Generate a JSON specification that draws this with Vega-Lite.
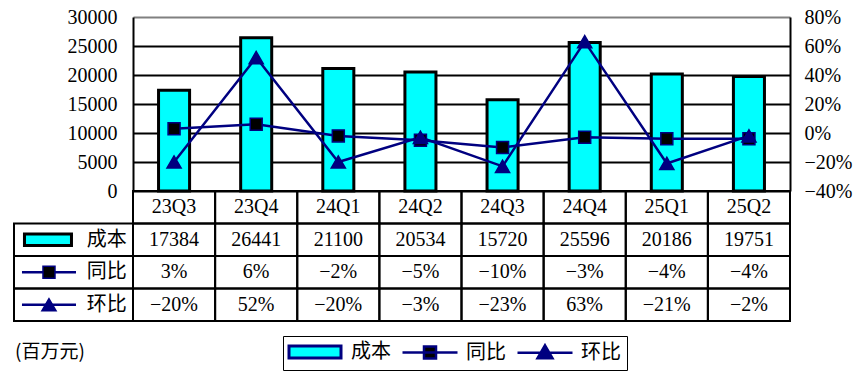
{
  "$schema": "https://vega.github.io/schema/vega-lite/v6.json",
  "width": 657,
  "height": 304,
  "autosize": {"type": "none"},
  "padding": {"left": 133, "top": 17, "right": 68, "bottom": 59},
  "background": "white",
  "config": {
    "view": {"stroke": null},
    "font": "Liberation Serif",
    "axis": {"labelFont": "Liberation Serif", "labelFontSize": 20, "labelColor": "black", "title": null}
  },
  "datasets": {
    "quarters": [
      {"q": "23Q3", "cost": 17384, "yoy": 0.03, "qoq": -0.20},
      {"q": "23Q4", "cost": 26441, "yoy": 0.06, "qoq": 0.52},
      {"q": "24Q1", "cost": 21100, "yoy": -0.02, "qoq": -0.20},
      {"q": "24Q2", "cost": 20534, "yoy": -0.05, "qoq": -0.03},
      {"q": "24Q3", "cost": 15720, "yoy": -0.10, "qoq": -0.23},
      {"q": "24Q4", "cost": 25596, "yoy": -0.03, "qoq": 0.63},
      {"q": "25Q1", "cost": 20186, "yoy": -0.04, "qoq": -0.21},
      {"q": "25Q2", "cost": 19751, "yoy": -0.04, "qoq": -0.02}
    ],
    "rows": [
      {"row": "cost", "name": "成本"},
      {"row": "yoy", "name": "同比"},
      {"row": "qoq", "name": "环比"}
    ]
  },
  "layer": [
    {
      "data": {"name": "quarters"},
      "encoding": {
        "x": {"field": "q", "type": "nominal", "sort": null,
              "scale": {"domain": ["23Q3","23Q4","24Q1","24Q2","24Q3","24Q4","25Q1","25Q2"], "paddingInner": 0, "paddingOuter": 0},
              "axis": null}
      },
      "layer": [
        {
          "mark": {"type": "bar", "width": {"band": 0.378}, "stroke": "black", "strokeWidth": 3},
          "encoding": {
            "y": {"field": "cost", "type": "quantitative",
                  "scale": {"domain": [0, 30000], "range": [174, 0], "nice": false},
                  "axis": {"orient": "left", "values": [0,5000,10000,15000,20000,25000,30000], "format": "d",
                           "ticks": false, "labelPadding": 16, "domainColor": "black", "domainWidth": 2,
                           "grid": true, "gridWidth": 2,
                           "gridColor": {"condition": {"test": "datum.value === 30000", "value": "#808080"}, "value": "black"}}},
            "fill": {"datum": "成本", "type": "nominal",
                     "scale": {"domain": ["成本","同比","环比"], "range": ["#00FFFF","#000000","#000080"]},
                     "legend": {
                       "orient": "none", "legendX": 150, "legendY": 319, "direction": "horizontal", "title": null,
                       "symbolSize": 400, "symbolOffset": 16, "labelOffset": 26, "columnPadding": 6, "padding": 6,
                       "strokeColor": "black", "labelFont": "Noto Sans CJK SC", "labelFontSize": 20, "labelColor": "black",
                       "symbolType": {"expr": "datum.value === '成本' ? 'M-2.6,-0.6H2.6V0.6H-2.6Z' : datum.value === '同比' ? 'M-2.75,0H2.75M-0.6,-0.6H0.6V0.6H-0.6Z' : 'M-2.75,0H2.75M0,-0.75L0.75,0.55H-0.75Z'"},
                       "symbolStrokeColor": {"expr": "datum.value === '成本' ? 'black' : '#000080'"},
                       "symbolStrokeWidth": {"expr": "datum.value === '成本' ? 3 : 2.5"},
                       "symbolOpacity": 1
                     }}
          }
        },
        {
          "layer": [
            {
              "mark": {"type": "line", "color": "#000080", "strokeWidth": 2.5},
              "encoding": {"y": {"field": "yoy", "type": "quantitative",
                "scale": {"domain": [-0.4, 0.8], "range": [174, 0], "nice": false, "zero": false},
                "axis": {"orient": "right", "values": [-0.4,-0.2,0,0.2,0.4,0.6,0.8], "format": ".0%", "ticks": false, "labelPadding": 14, "domainColor": "black", "domainWidth": 2, "grid": false}}}
            },
            {
              "mark": {"type": "line", "color": "#000080", "strokeWidth": 2.5},
              "encoding": {"y": {"field": "qoq", "type": "quantitative",
                "scale": {"domain": [-0.4, 0.8], "range": [174, 0], "nice": false, "zero": false},
                "axis": {"orient": "right", "values": [-0.4,-0.2,0,0.2,0.4,0.6,0.8], "format": ".0%", "ticks": false, "labelPadding": 14, "domainColor": "black", "domainWidth": 2, "grid": false}}}
            },
            {
              "mark": {"type": "point", "shape": "square", "filled": true, "size": 144, "stroke": "#000080", "strokeWidth": 1.5, "opacity": 1},
              "encoding": {
                "y": {"field": "yoy", "type": "quantitative",
                  "scale": {"domain": [-0.4, 0.8], "range": [174, 0], "nice": false, "zero": false},
                  "axis": {"orient": "right", "values": [-0.4,-0.2,0,0.2,0.4,0.6,0.8], "format": ".0%", "ticks": false, "labelPadding": 14, "domainColor": "black", "domainWidth": 2, "grid": false}},
                "fill": {"datum": "同比", "type": "nominal"}
              }
            },
            {
              "mark": {"type": "point", "shape": "triangle-up", "filled": true, "size": 200, "stroke": "#000080", "strokeWidth": 1.5, "opacity": 1},
              "encoding": {
                "y": {"field": "qoq", "type": "quantitative",
                  "scale": {"domain": [-0.4, 0.8], "range": [174, 0], "nice": false, "zero": false},
                  "axis": {"orient": "right", "values": [-0.4,-0.2,0,0.2,0.4,0.6,0.8], "format": ".0%", "ticks": false, "labelPadding": 14, "domainColor": "black", "domainWidth": 2, "grid": false}},
                "fill": {"datum": "环比", "type": "nominal"}
              }
            }
          ]
        }
      ],
      "resolve": {"scale": {"y": "independent"}}
    },
    {
      "layer": [
        {
          "data": {"name": "quarters"},
          "encoding": {
            "x": {"field": "q", "type": "nominal", "sort": null,
                  "scale": {"domain": ["23Q3","23Q4","24Q1","24Q2","24Q3","24Q4","25Q1","25Q2"], "paddingInner": 0, "paddingOuter": 0},
                  "axis": null}
          },
          "layer": [
            {
              "transform": [{"fold": ["q", "cost", "yoy", "qoq"], "as": ["row", "val"]}],
              "mark": {"type": "rect", "fillOpacity": 0, "stroke": "black", "strokeWidth": 2},
              "encoding": {
                "y": {"field": "row", "type": "nominal",
                      "scale": {"domain": ["q","cost","yoy","qoq"], "range": [174, 304], "paddingInner": 0, "paddingOuter": 0},
                      "axis": null}
              }
            },
            {
              "mark": {"type": "text", "font": "Liberation Serif", "fontSize": 20, "color": "black", "baseline": "middle"},
              "encoding": {"y": {"datum": "q", "type": "nominal"}, "text": {"field": "q", "type": "nominal"}}
            },
            {
              "mark": {"type": "text", "font": "Liberation Serif", "fontSize": 20, "color": "black", "baseline": "middle"},
              "encoding": {"y": {"datum": "cost", "type": "nominal"}, "text": {"field": "cost", "type": "quantitative", "format": "d"}}
            },
            {
              "mark": {"type": "text", "font": "Liberation Serif", "fontSize": 20, "color": "black", "baseline": "middle"},
              "encoding": {"y": {"datum": "yoy", "type": "nominal"}, "text": {"field": "yoy", "type": "quantitative", "format": ".0%"}}
            },
            {
              "mark": {"type": "text", "font": "Liberation Serif", "fontSize": 20, "color": "black", "baseline": "middle"},
              "encoding": {"y": {"datum": "qoq", "type": "nominal"}, "text": {"field": "qoq", "type": "quantitative", "format": ".0%"}}
            }
          ]
        },
        {
          "data": {"name": "rows"},
          "encoding": {
            "y": {"field": "row", "type": "nominal",
                  "scale": {"domain": ["q","cost","yoy","qoq"], "range": [174, 304], "paddingInner": 0, "paddingOuter": 0},
                  "axis": null}
          },
          "layer": [
            {
              "mark": {"type": "rect", "fillOpacity": 0, "stroke": "black", "strokeWidth": 2},
              "encoding": {
                "x": {"datum": 0, "type": "quantitative", "scale": {"domain": [0, 1], "range": [-119, 0], "zero": false, "nice": false}, "axis": null},
                "x2": {"datum": 1}
              }
            },
            {
              "mark": {"type": "text", "font": "Noto Sans CJK SC", "fontSize": 20, "color": "black", "baseline": "middle", "align": "center"},
              "encoding": {
                "x": {"datum": 0.78, "type": "quantitative"},
                "text": {"field": "name", "type": "nominal"}
              }
            },
            {
              "transform": [{"filter": "datum.row === 'cost'"}],
              "mark": {"type": "bar", "height": {"band": 0.36}, "fill": "#00FFFF", "stroke": "black", "strokeWidth": 3},
              "encoding": {
                "x": {"datum": 0.088, "type": "quantitative"},
                "x2": {"datum": 0.483}
              }
            },
            {
              "transform": [{"filter": "datum.row !== 'cost'"}],
              "mark": {"type": "rule", "color": "#000080", "strokeWidth": 2.5},
              "encoding": {
                "x": {"datum": 0.067, "type": "quantitative"},
                "x2": {"datum": 0.521}
              }
            },
            {
              "transform": [{"filter": "datum.row === 'yoy'"}],
              "mark": {"type": "point", "shape": "square", "filled": true, "size": 144, "fill": "black", "stroke": "#000080", "strokeWidth": 1.5, "opacity": 1},
              "encoding": {"x": {"datum": 0.294, "type": "quantitative"}}
            },
            {
              "transform": [{"filter": "datum.row === 'qoq'"}],
              "mark": {"type": "point", "shape": "triangle-up", "filled": true, "size": 200, "fill": "#000080", "stroke": "#000080", "strokeWidth": 1.5, "opacity": 1},
              "encoding": {"x": {"datum": 0.294, "type": "quantitative"}}
            },
            {
              "transform": [{"filter": "datum.row === 'qoq'"}],
              "mark": {"type": "text", "text": "(百万元)", "font": "Noto Sans CJK SC", "fontSize": 19, "color": "black", "baseline": "middle", "align": "left", "dy": 47, "dx": 1},
              "encoding": {"x": {"datum": 0, "type": "quantitative"}}
            }
          ],
          "resolve": {"scale": {"x": "shared"}}
        }
      ],
      "resolve": {"scale": {"x": "independent"}}
    }
  ],
  "resolve": {"scale": {"x": "independent", "y": "independent"}}
}
